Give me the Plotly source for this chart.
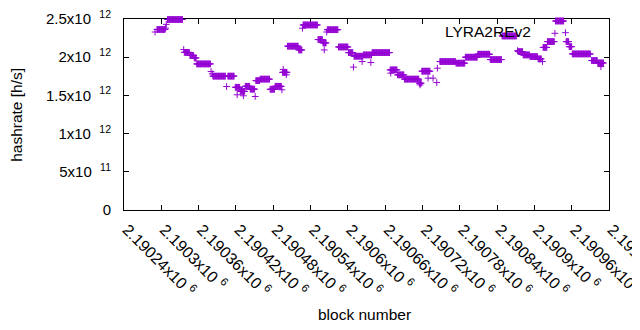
import plotly.graph_objects as go

# Runs of consecutive blocks sharing the same hashrate (start block, end block, value)
run_start = [2190293, 2190310, 2190337, 2190346, 2190353, 2190357, 2190383, 2190407,
             2190419, 2190427, 2190435, 2190443, 2190452, 2190459, 2190475, 2190483,
             2190495, 2190503, 2190521, 2190528, 2190552, 2190560, 2190567, 2190585,
             2190601, 2190610, 2190625, 2190639, 2190668, 2190680, 2190691, 2190715,
             2190719, 2190748, 2190774, 2190789, 2190809, 2190829, 2190848, 2190874,
             2190882, 2190893, 2190906, 2190914, 2190921, 2190934, 2190951, 2190956,
             2190961, 2190992, 2191002]
run_end = [2190306, 2190334, 2190345, 2190352, 2190356, 2190379, 2190403, 2190417,
           2190426, 2190434, 2190442, 2190450, 2190458, 2190474, 2190482, 2190493,
           2190502, 2190520, 2190526, 2190551, 2190559, 2190565, 2190584, 2190600,
           2190608, 2190624, 2190638, 2190667, 2190679, 2190690, 2190714, 2190718,
           2190732, 2190773, 2190788, 2190808, 2190828, 2190847, 2190871, 2190881,
           2190892, 2190905, 2190911, 2190920, 2190932, 2190947, 2190955, 2190960,
           2190990, 2191001, 2191011]
run_value = [2.363e12, 2.493e12, 2.063e12, 2.023e12, 1.990e12, 1.912e12, 1.752e12, 1.752e12,
             1.606e12, 1.553e12, 1.619e12, 1.582e12, 1.693e12, 1.713e12, 1.580e12, 1.619e12,
             1.802e12, 2.144e12, 2.095e12, 2.422e12, 2.231e12, 2.187e12, 2.360e12, 2.134e12,
             2.060e12, 2.013e12, 2.030e12, 2.060e12, 1.834e12, 1.769e12, 1.713e12, 1.660e12,
             1.817e12, 1.943e12, 1.922e12, 2.000e12, 2.039e12, 1.969e12, 2.278e12, 2.073e12,
             2.030e12, 2.008e12, 1.978e12, 2.128e12, 2.204e12, 2.474e12, 2.204e12, 2.138e12,
             2.043e12, 1.956e12, 1.925e12]

# Isolated blocks
point_block = [2190290, 2190307, 2190308, 2190336, 2190380, 2190382, 2190405, 2190422,
               2190432, 2190451, 2190494, 2190496, 2190501, 2190527, 2190562, 2190566,
               2190609, 2190623, 2190637, 2190669, 2190716, 2190729, 2190737, 2190743,
               2190744, 2190873, 2190913, 2190933, 2190950, 2191007]
point_value = [2.330e12, 2.380e12, 2.430e12, 2.100e12, 1.812e12, 1.782e12, 1.616e12, 1.508e12,
               1.495e12, 1.486e12, 1.573e12, 1.840e12, 1.769e12, 2.379e12, 2.095e12, 2.330e12,
               1.870e12, 1.943e12, 1.930e12, 1.791e12, 1.638e12, 1.726e12, 1.726e12, 1.668e12,
               1.856e12, 2.086e12, 1.943e12, 2.313e12, 2.321e12, 1.877e12]

x_ticks = [2190240, 2190300, 2190360, 2190420, 2190480, 2190540, 2190600, 2190660,
           2190720, 2190780, 2190840, 2190900, 2190960, 2191020]
x_tick_labels = ["2.19024", "2.1903", "2.19036", "2.19042", "2.19048", "2.19054", "2.1906",
                 "2.19066", "2.19072", "2.19078", "2.19084", "2.1909", "2.19096", "2.19102"]
y_ticks = [0, 5e11, 1e12, 1.5e12, 2e12, 2.5e12]
y_tick_labels = ["0", "5x10\u00a0\u00a0<sup>11</sup>", "1x10\u00a0\u00a0<sup>12</sup>",
                 "1.5x10\u00a0\u00a0<sup>12</sup>", "2x10\u00a0\u00a0<sup>12</sup>",
                 "2.5x10\u00a0\u00a0<sup>12</sup>"]

blocks, values = [], []
for s, e, v in zip(run_start, run_end, run_value):
    for b in range(s, e + 1):
        blocks.append(b)
        values.append(v)
blocks += point_block
values += point_value

COLOR = "#9400D3"
FONT = "Liberation Sans, Arial, sans-serif"

fig = go.Figure()
fig.add_trace(go.Scatter(
    x=blocks, y=values, mode="markers", cliponaxis=False,
    marker=dict(symbol="cross-thin", size=4.8, color=COLOR,
                line=dict(color=COLOR, width=1)),
    showlegend=False,
))

axis_common = dict(showline=True, linecolor="black", linewidth=1, mirror="ticks",
                   ticks="inside", ticklen=5, tickcolor="black", showgrid=False,
                   zeroline=False, layer="below traces", automargin=False,
                   ticklabeloverflow="allow")

fig.update_xaxes(range=[2190240, 2191020], tickmode="array", tickvals=x_ticks,
                 ticktext=["\u00a0" + t + "x10\u00a0<sup>6</sup>" for t in x_tick_labels],
                 tickangle=45, ticklabelstandoff=0,
                 tickfont=dict(family=FONT, size=16, color="black"), **axis_common)
fig.update_yaxes(range=[0, 2.5e12], tickmode="array", tickvals=y_ticks,
                 ticktext=y_tick_labels, ticklabelstandoff=9,
                 tickfont=dict(family=FONT, size=15, color="black"), **axis_common)

# The page body has an 8px default margin, so the figure is offset by 8px;
# the figure size and margins compensate for it.
fig.update_layout(
    width=632, height=322,
    margin=dict(l=116, r=31, t=11, b=120, pad=0),
    plot_bgcolor="white", paper_bgcolor="white",
    font=dict(family=FONT, size=15, color="black"),
    annotations=[
        dict(text="block number", xref="paper", yref="paper", x=0.495, y=-0.547,
             xanchor="center", yanchor="middle", showarrow=False,
             font=dict(family=FONT, size=15.5, color="black")),
        dict(text="hashrate [h/s]", xref="paper", yref="paper", x=-0.222, y=0.5,
             xanchor="center", yanchor="middle", textangle=-90, showarrow=False,
             font=dict(family=FONT, size=15.5, color="black")),
        dict(text="LYRA2REv2", xref="paper", yref="paper", x=0.8433, y=0.936,
             xanchor="right", yanchor="middle", showarrow=False,
             font=dict(family=FONT, size=15.5, color="black")),
    ],
)

fig.write_html("out.html")
